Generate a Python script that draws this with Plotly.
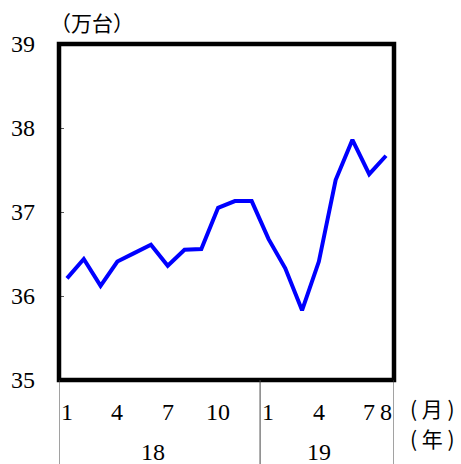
import plotly.graph_objects as go

# Monthly values, Jan 2018 - Aug 2019 (万台)
values = [36.21, 36.44, 36.12, 36.41, 36.51, 36.61, 36.36, 36.55, 36.56, 37.05,
          37.13, 37.13, 36.68, 36.33, 35.83, 36.41, 37.38, 37.86, 37.45, 37.67]
month_labels = ["1", "4", "7", "10", "1", "4", "7", "8"]
month_label_idx = [0, 3, 6, 9, 12, 15, 18, 19]
years = ["18", "19"]
year_label_idx = [5.1, 15.0]
year_breaks = [-0.476, 11.5, 19.476]
y_ticks = [35, 36, 37, 38, 39]

idx = list(range(len(values)))
serif = "Liberation Serif, Noto Sans CJK JP, serif"
cjk = "Noto Sans CJK JP, serif"

fig = go.Figure()
fig.add_trace(go.Scatter(x=idx, y=values, mode="lines",
                         line=dict(color="#0000ff", width=4), hoverinfo="skip"))

fig.update_layout(
    width=461, height=464,
    margin=dict(l=59, r=67, t=44, b=84),
    paper_bgcolor="white", plot_bgcolor="white",
    showlegend=False,
    xaxis=dict(range=[year_breaks[0], year_breaks[-1]], showgrid=False, zeroline=False,
               showticklabels=False, ticks="", showline=False, fixedrange=True),
    yaxis=dict(range=[35, 39], showgrid=False, zeroline=False, showticklabels=False,
               tickvals=y_ticks, ticks="inside", ticklen=5, tickcolor="#555",
               tickwidth=1, showline=False, fixedrange=True),
)

# Heavy frame around the plot area
fig.add_shape(type="rect", xref="paper", yref="paper", x0=0, x1=1, y0=0, y1=1,
              line=dict(color="black", width=4.5), layer="above")

# Year separators below the plot
for b in year_breaks:
    fig.add_shape(type="line", xref="x", yref="paper", x0=b, x1=b, y0=0, y1=-0.25,
                  line=dict(color="#444", width=1))

# Y tick labels
for v in y_ticks:
    fig.add_annotation(x=0, xref="paper", y=v, yref="y", text=str(v),
                       xanchor="right", yanchor="middle", xshift=-22, showarrow=False,
                       font=dict(family=serif, size=24, color="black"))

# Month labels
for t, i in zip(month_labels, month_label_idx):
    fig.add_annotation(x=i, xref="x", y=0, yref="paper", yshift=-32, text=t,
                       xanchor="center", yanchor="middle", showarrow=False,
                       font=dict(family=serif, size=24, color="black"))

# Year labels
for t, i in zip(years, year_label_idx):
    fig.add_annotation(x=i, xref="x", y=0, yref="paper", yshift=-72, text=t,
                       xanchor="center", yanchor="middle", showarrow=False,
                       borderpad=0, font=dict(family=serif, size=24, color="black"))

# Units
units = [("（万台）", 0, 1, 33, 22), ("( 月 )", 1, 0, 38, -28), ("( 年 )", 1, 0, 38, -58)]
for text, px, py, dx, dy in units:
    fig.add_annotation(x=px, xref="paper", y=py, yref="paper", xshift=dx, yshift=dy,
                       text=text, xanchor="center", yanchor="middle", showarrow=False,
                       borderpad=0, font=dict(family=cjk, size=21, color="black"))

fig.write_html("out.html")
